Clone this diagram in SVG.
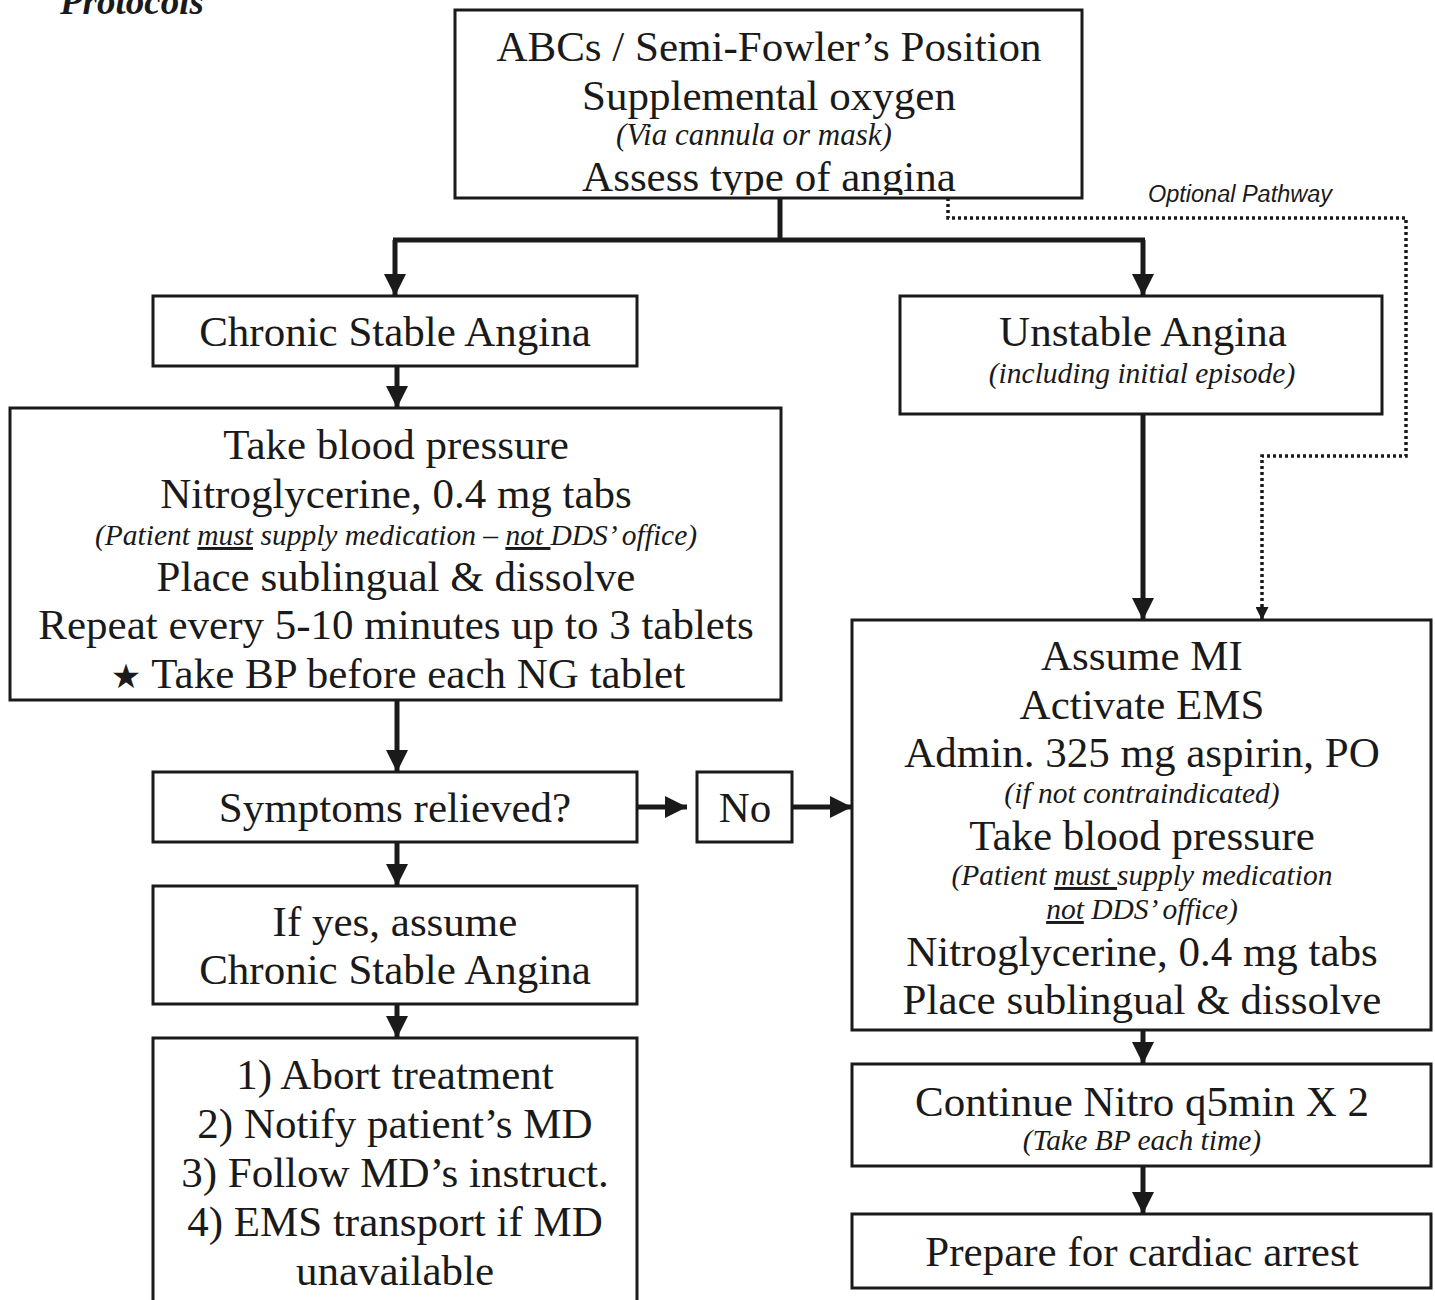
<svg xmlns="http://www.w3.org/2000/svg" width="1435" height="1300" viewBox="0 0 1435 1300">
<style>
.box{fill:#fff;stroke:#1a1a1a;stroke-width:3}
.t{font-family:"Liberation Serif","Times New Roman",serif;font-size:43px;fill:#1a1a1a;text-anchor:middle}
.s{font-family:"Liberation Serif","Times New Roman",serif;font-size:29.5px;font-style:italic;fill:#1a1a1a;text-anchor:middle}
.c{fill:none;stroke:#1a1a1a;stroke-width:5}
.d{fill:none;stroke:#1a1a1a;stroke-width:3.5;stroke-dasharray:3 3}
</style>
<defs>
<marker id="ah" viewBox="0 0 20 20" markerUnits="userSpaceOnUse" markerWidth="22" markerHeight="22" refX="20" refY="10" orient="auto"><path d="M0,0 L20,10 L0,20 z" fill="#1a1a1a"/></marker>
<marker id="ahs" viewBox="0 0 20 20" markerUnits="userSpaceOnUse" markerWidth="13" markerHeight="13" refX="20" refY="10" orient="auto"><path d="M0,0 L20,10 L0,20 z" fill="#1a1a1a"/></marker>
<clipPath id="clipTop"><rect x="455" y="10" width="627" height="185"/></clipPath>
<clipPath id="clipMI"><rect x="852" y="620" width="579" height="406"/></clipPath>
</defs>
<rect width="1435" height="1300" fill="#fff"/>
<text x="60" y="14" font-family="Liberation Serif,serif" font-size="37" font-weight="bold" font-style="italic" fill="#1a1a1a">Protocols</text>

<g id="connectors">
<path class="c" d="M780,198 V240 M393,240 H1145"/>
<line class="c" x1="395" y1="240" x2="395" y2="296" marker-end="url(#ah)"/>
<line class="c" x1="1143" y1="240" x2="1143" y2="296" marker-end="url(#ah)"/>
<line class="c" x1="397" y1="366" x2="397" y2="408" marker-end="url(#ah)"/>
<line class="c" x1="397" y1="700" x2="397" y2="772" marker-end="url(#ah)"/>
<line class="c" x1="637" y1="807" x2="687" y2="807" marker-end="url(#ah)"/>
<line class="c" x1="792" y1="807" x2="852" y2="807" marker-end="url(#ah)"/>
<line class="c" x1="397" y1="842" x2="397" y2="886" marker-end="url(#ah)"/>
<line class="c" x1="397" y1="1004" x2="397" y2="1038" marker-end="url(#ah)"/>
<line class="c" x1="1143" y1="414" x2="1143" y2="620" marker-end="url(#ah)"/>
<line class="c" x1="1143" y1="1030" x2="1143" y2="1064" marker-end="url(#ah)"/>
<line class="c" x1="1143" y1="1166" x2="1143" y2="1214" marker-end="url(#ah)"/>
<path class="d" d="M948,198 V218 H1406 V456 H1262 V620" marker-end="url(#ahs)"/>
<text x="1240" y="202" font-family="Liberation Sans,Arial,sans-serif" font-size="23.5" font-style="italic" fill="#1a1a1a" text-anchor="middle">Optional Pathway</text>
</g>

<g id="n-top">
<rect class="box" x="455" y="10" width="627" height="188"/>
<g clip-path="url(#clipTop)">
<text class="t" x="769" y="61">ABCs / Semi-Fowler’s Position</text>
<text class="t" x="769" y="110">Supplemental oxygen</text>
<text class="s" x="754" y="145" style="font-size:31px">(Via cannula or mask)</text>
<text class="t" x="769" y="191">Assess type of angina</text>
</g>
</g>

<g id="n-chronic">
<rect class="box" x="153" y="296" width="484" height="70"/>
<text class="t" x="395" y="346">Chronic Stable Angina</text>
</g>

<g id="n-unstable">
<rect class="box" x="900" y="296" width="482" height="118"/>
<text class="t" x="1143" y="346">Unstable Angina</text>
<text class="s" x="1142" y="383">(including initial episode)</text>
</g>

<g id="n-takebp">
<rect class="box" x="10" y="408" width="771" height="292"/>
<text class="t" x="396" y="459">Take blood pressure</text>
<text class="t" x="396" y="508">Nitroglycerine, 0.4 mg tabs</text>
<text class="s" x="396" y="545">(Patient <tspan text-decoration="underline">must</tspan> supply medication – <tspan text-decoration="underline">not </tspan>DDS’ office)</text>
<text class="t" x="396" y="591">Place sublingual &amp; dissolve</text>
<text class="t" x="396" y="639">Repeat every 5-10 minutes up to 3 tablets</text>
<text class="t" x="398" y="688"><tspan font-family="DejaVu Sans,sans-serif" font-size="34">★</tspan> Take BP before each NG tablet</text>
</g>

<g id="n-symptoms">
<rect class="box" x="153" y="772" width="484" height="70"/>
<text class="t" x="395" y="822">Symptoms relieved?</text>
</g>

<g id="n-no">
<rect class="box" x="697" y="772" width="95" height="70"/>
<text class="t" x="745" y="822">No</text>
</g>

<g id="n-ifyes">
<rect class="box" x="153" y="886" width="484" height="118"/>
<text class="t" x="395" y="936">If yes, assume</text>
<text class="t" x="395" y="984">Chronic Stable Angina</text>
</g>

<g id="n-abort">
<rect class="box" x="153" y="1038" width="484" height="280"/>
<text class="t" x="395" y="1089">1) Abort treatment</text>
<text class="t" x="395" y="1138">2) Notify patient’s MD</text>
<text class="t" x="395" y="1187">3) Follow MD’s instruct.</text>
<text class="t" x="395" y="1236">4) EMS transport if MD</text>
<text class="t" x="395" y="1285">unavailable</text>
</g>

<g id="n-mi">
<rect class="box" x="852" y="620" width="579" height="410"/>
<g clip-path="url(#clipMI)">
<text class="t" x="1142" y="670">Assume MI</text>
<text class="t" x="1142" y="719">Activate EMS</text>
<text class="t" x="1142" y="767">Admin. 325 mg aspirin, PO</text>
<text class="s" x="1142" y="803">(if not contraindicated)</text>
<text class="t" x="1142" y="850">Take blood pressure</text>
<text class="s" x="1142" y="885">(Patient <tspan text-decoration="underline">must </tspan>supply medication</text>
<text class="s" x="1142" y="919"><tspan text-decoration="underline">not</tspan> DDS’ office)</text>
<text class="t" x="1142" y="966">Nitroglycerine, 0.4 mg tabs</text>
<text class="t" x="1142" y="1014">Place sublingual &amp; dissolve</text>
</g>
</g>

<g id="n-continue">
<rect class="box" x="852" y="1064" width="579" height="102"/>
<text class="t" x="1142" y="1116">Continue Nitro q5min X 2</text>
<text class="s" x="1142" y="1150">(Take BP each time)</text>
</g>

<g id="n-prepare">
<rect class="box" x="852" y="1214" width="579" height="74"/>
<text class="t" x="1142" y="1266">Prepare for cardiac arrest</text>
</g>
</svg>
